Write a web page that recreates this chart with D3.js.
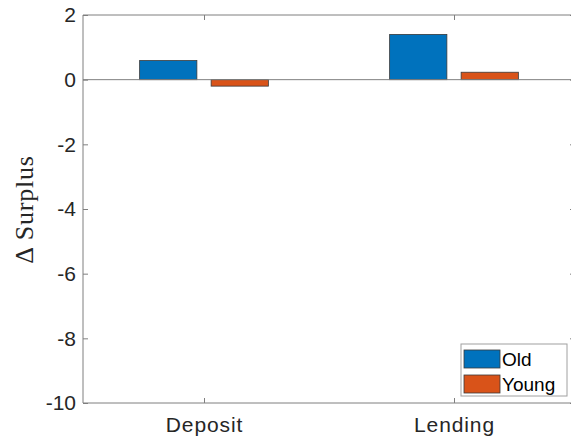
<!DOCTYPE html>
<html>
<head>
<meta charset="utf-8">
<script src="https://cdn.jsdelivr.net/npm/d3@7"></script>
<style>
  html, body { margin: 0; padding: 0; background: #fff; }
  svg { display: block; }
</style>
</head>
<body>
<svg id="chart" width="571" height="436"></svg>
<script>
// Change in surplus by product market, split by household group
const categories = ["Deposit", "Lending"];
const seriesNames = ["Old", "Young"];
const oldValues = [0.59, 1.40];
const youngValues = [-0.20, 0.23];
const yTicks = [2, 0, -2, -4, -6, -8, -10];

const colors = { Old: "#0072BD", Young: "#D95319" };
const frame = { left: 83, top: 15, right: 575, bottom: 403 };

const svg = d3.select("#chart");

// Categories sit at 1 and 2 on a numeric axis
const x = d3.scaleLinear().domain([1, 2]).range([204, 454]);
const y = d3.scaleLinear().domain([-10, 2]).range([frame.bottom, frame.top]);

const groupOffset = 0.143;   // in category units
const barWidth = 0.229;

const rows = categories.map((c, i) => ({
  cat: c, idx: i + 1,
  vals: [{ s: "Old", v: oldValues[i] }, { s: "Young", v: youngValues[i] }]
}));

const axisColor = "#7f7f7f";
const textColor = "#262626";
const sans = "'Liberation Sans', Arial, Helvetica, sans-serif";

// Bars
const g = svg.append("g");
rows.forEach(r => {
  r.vals.forEach((d, j) => {
    const cx = r.idx + (j === 0 ? -groupOffset : groupOffset);
    const x0 = x(cx - barWidth / 2), x1 = x(cx + barWidth / 2);
    g.append("rect")
      .attr("x", x0)
      .attr("width", x1 - x0)
      .attr("y", y(Math.max(0, d.v)))
      .attr("height", Math.abs(y(d.v) - y(0)))
      .attr("fill", colors[d.s])
      .attr("stroke", "#3a3a3a")
      .attr("stroke-width", 0.8);
  });
});

// Baseline at zero
svg.append("line")
  .attr("x1", frame.left).attr("x2", frame.right)
  .attr("y1", y(0)).attr("y2", y(0))
  .attr("stroke", axisColor).attr("stroke-width", 1);

// Axes frame (box) with inward ticks
const yAxisL = d3.axisLeft(y).tickValues(yTicks).tickSize(-5).tickPadding(7)
  .tickFormat(d => d < 0 ? "-" + Math.abs(d) : d);
const yAxisR = d3.axisRight(y).tickValues(yTicks).tickSize(-5).tickFormat("");
const xAxisB = d3.axisBottom(x).tickValues([1, 2]).tickSize(-5).tickPadding(14)
  .tickFormat(d => categories[d - 1]);
const xAxisT = d3.axisTop(x).tickValues([1, 2]).tickSize(-5).tickFormat("");

function style(sel) {
  sel.select(".domain").attr("stroke", axisColor).attr("stroke-width", 1);
  sel.selectAll(".tick line").attr("stroke", axisColor).attr("stroke-width", 1);
  sel.selectAll(".tick text")
    .attr("fill", textColor)
    .style("font-family", sans)
    .style("font-size", "21px");
}

svg.append("g").attr("transform", `translate(${frame.left},0)`).call(yAxisL).call(style)
  .call(s => s.select(".domain").attr("d", `M0,${frame.top}V${frame.bottom}`));
svg.append("g").attr("transform", `translate(${frame.right},0)`).call(yAxisR).call(style)
  .call(s => s.select(".domain").attr("d", `M0,${frame.top}V${frame.bottom}`));
svg.append("g").attr("transform", `translate(0,${frame.bottom})`).call(xAxisB).call(style)
  .call(s => s.select(".domain").attr("d", `M${frame.left},0H${frame.right}`))
  .call(s => s.selectAll(".tick text").style("letter-spacing", "0.9px"));
svg.append("g").attr("transform", `translate(0,${frame.top})`).call(xAxisT).call(style)
  .call(s => s.select(".domain").attr("d", `M${frame.left},0H${frame.right}`));

// Y axis label
svg.append("text")
  .attr("transform", `translate(33,${(154 + 265) / 2}) rotate(-90)`)
  .attr("text-anchor", "middle")
  .attr("fill", textColor)
  .style("font-family", "'Liberation Serif', 'DejaVu Serif', serif")
  .style("font-size", "26px")
  .style("letter-spacing", "0.8px")
  .text("\u0394 Surplus");

// Legend
const leg = svg.append("g").attr("transform", "translate(461,344)");
leg.append("rect")
  .attr("width", 106).attr("height", 52)
  .attr("fill", "#fff").attr("stroke", "#a0a0a0").attr("stroke-width", 1);
seriesNames.forEach((s, i) => {
  const row = leg.append("g").attr("transform", `translate(3,${6 + i * 25})`);
  row.append("rect")
    .attr("width", 36).attr("height", 18)
    .attr("fill", colors[s]).attr("stroke", "#3a3a3a").attr("stroke-width", 0.8);
  row.append("text")
    .attr("x", 38).attr("y", 16)
    .attr("fill", "#000")
    .style("font-family", sans)
    .style("font-size", "19px")
    .text(s);
});
</script>
</body>
</html>
